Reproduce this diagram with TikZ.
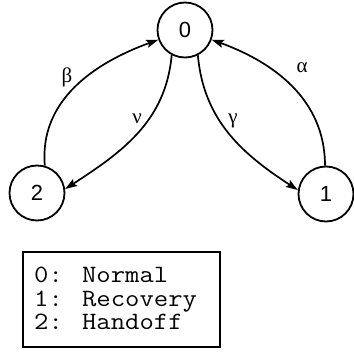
\documentclass[tikz,border=0pt]{standalone}
\usepackage{fontspec}
\setmainfont{Liberation Sans}
\newfontfamily\grk{Liberation Serif}
\usetikzlibrary{arrows.meta}
\begin{document}
\begin{tikzpicture}[x=1bp,y=1bp,
  state/.style={circle,draw,line width=1.8bp,minimum size=55bp,inner sep=0pt,font=\fontsize{22}{22}\selectfont},
  trans/.style={line width=1.7bp,-{Stealth[length=12bp,width=8bp,inset=2bp]}},
  lbl/.style={font=\grk\fontsize{21}{21}\selectfont,inner sep=0pt},
  legendline/.style={anchor=base west,font=\ttfamily\fontsize{25}{25}\selectfont,inner sep=0pt},
  legendbox/.style={draw,line width=1.6bp,minimum width=197bp,minimum height=95bp,inner sep=0pt}]
\useasboundingbox (0,0) rectangle (354,353);
\node[state] (n0) at (185,323) {0};
\node[state] (n2) at (37,160) {2};
\node[state] (n1) at (326,159) {1};
\draw[trans] (n2.74) to[out=95,in=200] (n0.200);
\draw[trans] (n0.242) to[out=265,in=33] (n2.8);
\draw[trans] (n0.297) to[out=275,in=147] (n1.172);
\draw[trans] (n1.92) to[out=90,in=340] (n0.340);
\node[lbl] (lb) at (67,276) {β};
\node[lbl] (ln) at (137,234) {ν};
\node[lbl] (lg) at (233,232) {γ};
\node[lbl] (la) at (302,285) {α};
\node[legendbox] (box) at (121.5,53.5) {};
\node[legendline] (l0) at (34,71) {\scalebox{1.12}[1]{0: Normal}};
\node[legendline] (l1) at (34,47) {\scalebox{1.12}[1]{1: Recovery}};
\node[legendline] (l2) at (34,24) {\scalebox{1.12}[1]{2: Handoff}};
\end{tikzpicture}
\end{document}
